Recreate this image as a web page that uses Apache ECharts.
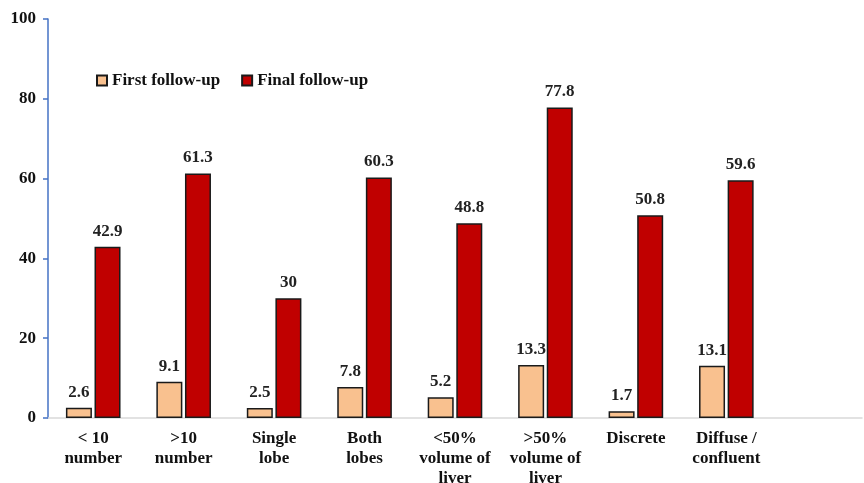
<!DOCTYPE html>
<html><head><meta charset="utf-8">
<script src="https://cdn.jsdelivr.net/npm/echarts@6/dist/echarts.min.js"></script>
<style>html,body{margin:0;padding:0;background:#fff}#c{width:864px;height:483px}</style>
</head><body><div id="c"></div>
<script>
const categories = ['< 10\nnumber', '>10\nnumber', 'Single\nlobe', 'Both\nlobes', '<50%\nvolume of\nliver', '>50%\nvolume of\nliver', 'Discrete', 'Diffuse /\nconfluent', ''];
const firstFollowUp = [2.6, 9.1, 2.5, 7.8, 5.2, 13.3, 1.7, 13.1, null];
const finalFollowUp = [42.9, 61.3, 30, 60.3, 48.8, 77.8, 50.8, 59.6, null];
const yTicks = [0, 20, 40, 60, 80, 100];

const font = '"Liberation Serif", "Times New Roman", serif';
const chart = echarts.init(document.getElementById('c'));
const lbl = { show: true, position: 'top', distance: 7, fontFamily: font, fontWeight: 'bold', fontSize: 17, color: '#222' };
chart.setOption({
  animation: false,
  textStyle: { fontFamily: font },
  grid: { left: 48, right: 2, top: 19, bottom: 65, containLabel: false, outerBoundsMode: 'none' },
  legend: {
    left: 91, top: 67, itemWidth: 10, itemHeight: 10, itemGap: 21, icon: 'rect',
    textStyle: { fontFamily: font, fontWeight: 'bold', fontSize: 17, color: '#111' },
    data: ['First follow-up', 'Final follow-up']
  },
  xAxis: {
    type: 'category', data: categories,
    axisLine: { lineStyle: { color: '#d9d9d9', width: 1.5 } },
    axisTick: { show: false },
    axisLabel: { interval: 0, fontFamily: font, fontWeight: 'bold', fontSize: 17, color: '#111', lineHeight: 20, margin: 11 }
  },
  yAxis: {
    type: 'value', min: yTicks[0], max: yTicks[yTicks.length - 1], interval: 20,
    axisLine: { show: true, lineStyle: { color: '#4472C4', width: 1.5 } },
    axisTick: { show: true, length: 5, lineStyle: { color: '#4472C4', width: 1.5 } },
    splitLine: { show: false },
    axisLabel: { fontFamily: font, fontWeight: 'bold', fontSize: 17, color: '#111', margin: 12 }
  },
  series: [
    { name: 'First follow-up', type: 'bar', data: firstFollowUp, barWidth: 26, barGap: '10%',
      itemStyle: { color: '#F9C18F', borderColor: '#1a1a1a', borderWidth: 1.5 }, label: lbl },
    { name: 'Final follow-up', type: 'bar', data: finalFollowUp, barWidth: 26,
      itemStyle: { color: '#C00000', borderColor: '#1a1a1a', borderWidth: 1.5 }, label: lbl }
  ]
});
</script></body></html>
